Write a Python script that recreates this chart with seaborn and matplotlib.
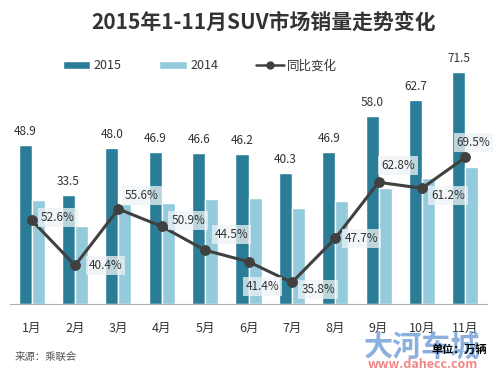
import numpy as np
import pandas as pd
import matplotlib
matplotlib.use('Agg')
import matplotlib.pyplot as plt
import seaborn as sns
from matplotlib.patches import Patch
from matplotlib.lines import Line2D

# --- 数据 ---
months = ['1月', '2月', '3月', '4月', '5月', '6月', '7月', '8月', '9月', '10月', '11月']
sales_2015 = [48.9, 33.5, 48.0, 46.9, 46.6, 46.2, 40.3, 46.9, 58.0, 62.7, 71.5]
sales_2014 = [32.0, 23.9, 30.9, 31.1, 32.2, 32.7, 29.7, 31.8, 35.6, 38.9, 42.2]
growth = [52.6, 40.4, 55.6, 50.9, 44.5, 41.4, 35.8, 47.7, 62.8, 61.2, 69.5]

# 百分比标签相对数据点的偏移 (points)
label_offsets = [(19, 2), (22, 0), (17, 10), (19, 4), (19, 11), (10, -18),
                 (19, -5), (19, 0), (14, 12), (19, -5), (6, 11)]

sns.set_style('white')
plt.rcParams['font.family'] = ['Noto Sans CJK SC', 'DejaVu Sans']

dark = '#2b7d97'
light = '#93cadc'
line_c = '#404040'
text_c = '#333333'

df = pd.DataFrame({
    '月份': months * 2,
    '销量': sales_2015 + sales_2014,
    '年份': ['2015'] * len(months) + ['2014'] * len(months),
})

fig = plt.figure(figsize=(5, 3.77), dpi=100)
ax = fig.add_axes([0.02, 0.1936, 0.954, 0.689])

sns.barplot(data=df, x='月份', y='销量', hue='年份', hue_order=['2015', '2014'],
            palette=[dark, light], width=0.6, ax=ax, legend=False, saturation=1)
ax.bar_label(ax.containers[0], fmt='%.1f', padding=5, fontsize=8.5, color=text_c)
ax.set_ylim(0, 80)
ax.set_xlim(-0.5, len(months) - 0.5)
ax.set_xlabel('')
ax.set_ylabel('')
ax.set_yticks([])
for s in ['top', 'left', 'right']:
    ax.spines[s].set_visible(False)
ax.spines['bottom'].set_color('#b0b0b0')
ax.set_xticks(np.arange(-0.5, len(months), 1), minor=True)
ax.tick_params(axis='x', which='major', length=0, labelsize=9, labelcolor=text_c, pad=13)
ax.tick_params(axis='x', which='minor', length=4, color='#b0b0b0', direction='out')

ax2 = ax.twinx()
sns.lineplot(x=np.arange(len(months)), y=growth, ax=ax2, color=line_c, linewidth=2.2,
             marker='o', markersize=7, markeredgecolor=line_c)
ax2.set_ylim(30, 100)
ax2.set_xlim(-0.5, len(months) - 0.5)
ax2.axis('off')
for i, g in enumerate(growth):
    ax2.annotate(f'{g:.1f}%', (i, g), xytext=label_offsets[i], textcoords='offset points',
                 ha='center', va='center', fontsize=8.5, color=text_c,
                 bbox=dict(boxstyle='square,pad=0.25', facecolor='#eef3f6', edgecolor='none', alpha=0.75))

fig.text(0.528, 0.94, '2015年1-11月SUV市场销量走势变化', ha='center', va='center',
         fontsize=15, fontweight='bold', color=text_c)

handles = [Patch(facecolor=dark), Patch(facecolor=light),
           Line2D([0], [0], color=line_c, marker='o', markersize=5, linewidth=1.8)]
fig.legend(handles, ['2015', '2014', '同比变化'], loc='center', bbox_to_anchor=(0.4, 0.825),
           ncol=3, frameon=False, fontsize=9, handlelength=2.2, handleheight=0.6,
           columnspacing=3.0, handletextpad=0.3, labelcolor=text_c)

fig.text(0.03, 0.053, '来源：乘联会', fontsize=7.5, style='italic', color='#555555', va='center')
# 水印
fig.text(0.845, 0.082, '大河车城', fontsize=21, fontweight='bold', color='#5b8fd0', alpha=0.7,
         va='center', ha='center')
fig.text(0.845, 0.032, 'www.dahecc.com', fontsize=9, fontweight='bold', color='#f07070', alpha=0.85,
         va='center', ha='center')
fig.text(0.975, 0.072, '单位：万辆', fontsize=8, fontweight='bold', color='black', va='center', ha='right')

fig.savefig('out.png', dpi=100)
